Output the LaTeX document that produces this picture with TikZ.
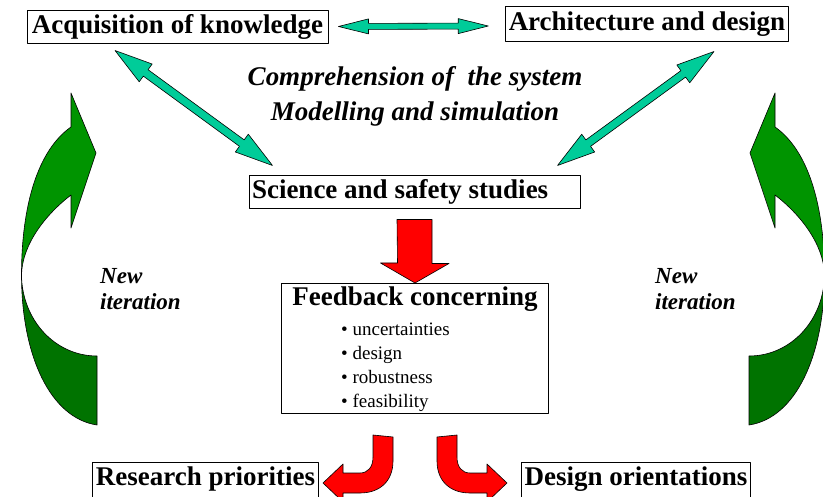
\documentclass[tikz,border=0pt]{standalone}
\usepackage{fontspec}
\setmainfont{Liberation Serif}
\usetikzlibrary{calc,positioning}

\definecolor{linkteal}{RGB}{0,204,153}
\definecolor{loopfront}{RGB}{0,148,0}
\definecolor{loopback}{RGB}{0,115,0}
\definecolor{flowred}{RGB}{255,0,0}

% double headed block arrow between two points:
% #1,#2 tips, #3 half shaft, #4 half head, #5 head length
\newcommand\twoway[5]{%
  \filldraw[linkarrow] (#1)
    -- ($(#1)!#5!(#2)!#4!90:(#2)$) -- ($(#1)!#5!(#2)!#3!90:(#2)$)
    -- ($(#2)!#5!(#1)!#3!-90:(#1)$) -- ($(#2)!#5!(#1)!#4!-90:(#1)$)
    -- (#2)
    -- ($(#2)!#5!(#1)!#4!90:(#1)$) -- ($(#2)!#5!(#1)!#3!90:(#1)$)
    -- ($(#1)!#5!(#2)!#3!-90:(#2)$) -- ($(#1)!#5!(#2)!#4!-90:(#2)$)
    -- cycle;}

\begin{document}
\begin{tikzpicture}[x=1pt,y=-1pt,line join=round,
  titlebox/.style={draw,line width=1pt,font=\fontsize{27}{30}\selectfont\bfseries,
    text height=19pt,text depth=6pt,inner xsep=3pt,inner ysep=4pt},
  themetext/.style={font=\fontsize{27}{35}\selectfont\bfseries\itshape,align=center,inner sep=0pt},
  looptext/.style={font=\fontsize{23}{26}\selectfont\bfseries\itshape,align=left,inner sep=0pt,anchor=west},
  itemtext/.style={font=\fontsize{19}{23}\selectfont,inner sep=0pt,anchor=base west},
  linkarrow/.style={fill=linkteal,draw=black,line width=0.6pt},
  flowarrow/.style={fill=flowred,draw=black,line width=0.6pt},
  loop arrow/.pic={
    \filldraw[fill=loopback,line width=0.6pt] (21.5,275)
      .. controls (21.5,355) and (50,418) .. (97,425) -- (97,356)
      .. controls (55,356) and (22,320) .. (21.5,275) -- cycle;
    \filldraw[fill=loopfront,line width=0.6pt] (71,127)
      .. controls (38,150) and (21.5,205) .. (21.5,275)
      .. controls (22,245) and (45,215) .. (71,195)
      -- (71,228) -- (96,153) -- (71,93) -- cycle;},
  split arrow/.pic={
    \filldraw[flowarrow] (-42,21) -- (-22,23) -- (-22,47)
      .. controls (-22,67) and (-35,79) .. (-55,79) -- (-72,79) -- (-72,88)
      -- (-92,69) -- (-72,50) -- (-72,59) -- (-55,59)
      .. controls (-47,59) and (-42,53) .. (-42,43) -- cycle;}]
  \useasboundingbox (0,0) rectangle (823,497);

  \node[titlebox,minimum width=301pt] (acq) at (177.5,27.5) {Acquisition of knowledge};
  \node[titlebox,minimum width=282pt,minimum height=35pt] (arch) at (647,24.5) {Architecture and design};
  \node[titlebox,text width=325pt,align=flush left] (sci) at (414.5,192.5) {Science and safety studies};
  \node[themetext] (theme) at (415,96) {Comprehension of\ \ the system\\Modelling and simulation};

  \coordinate (acqR) at ($(acq.east)+(10,-1)$);
  \coordinate (archL) at ($(arch.west)+(-17,1.5)$);
  \coordinate (acqS) at ($(acq.south)+(-62.5,6)$);
  \coordinate (sciL) at ($(sci.north west)+(24,-10)$);
  \coordinate (archS) at ($(arch.south)+(67,9)$);
  \coordinate (sciR) at ($(sci.north east)+(-23,-10)$);
  \twoway{acqR}{archL}{3pt}{7.5pt}{30pt}
  \twoway{acqS}{sciL}{4pt}{11pt}{38pt}
  \twoway{archS}{sciR}{4pt}{11pt}{38pt}

  \node[draw,line width=1pt,minimum width=267pt,minimum height=130pt,anchor=north west] (fb) at (281,283) {};
  \node[font=\fontsize{27}{30}\selectfont\bfseries,inner sep=0pt,anchor=base] (fbhead) at ($(fb.north)+(0,23)$) {Feedback concerning};
  \foreach \entry [count=\i] in {uncertainties,design,robustness,feasibility}
    \node[itemtext] (item\i) at ($(fb.north west)+(60,29+24*\i)$) {\textbullet\ \entry};

  \filldraw[flowarrow] ($(sci.south)+(-17.5,10)$) -- ++(35,0) -- ++(0,44) -- ++(17,0)
    -- (fb.north) -- ++(-34.5,-20) -- ++(17,0) -- cycle;

  \node[titlebox,text depth=10pt,minimum width=225pt,anchor=north] (prio) at (205.5,462) {Research priorities};
  \node[titlebox,text depth=10pt,minimum width=228pt,anchor=north] (orient) at (636,462) {Design orientations};
  \pic at (fb.south) {split arrow};
  \pic[xscale=-1] at (fb.south) {split arrow};

  \pic at (0,0) {loop arrow};
  \pic[xscale=-1] at (846,0) {loop arrow};
  \node[looptext] (iterL) at (100,289) {New\\iteration};
  \node[looptext] (iterR) at (655,289) {New\\iteration};
\end{tikzpicture}
\end{document}
